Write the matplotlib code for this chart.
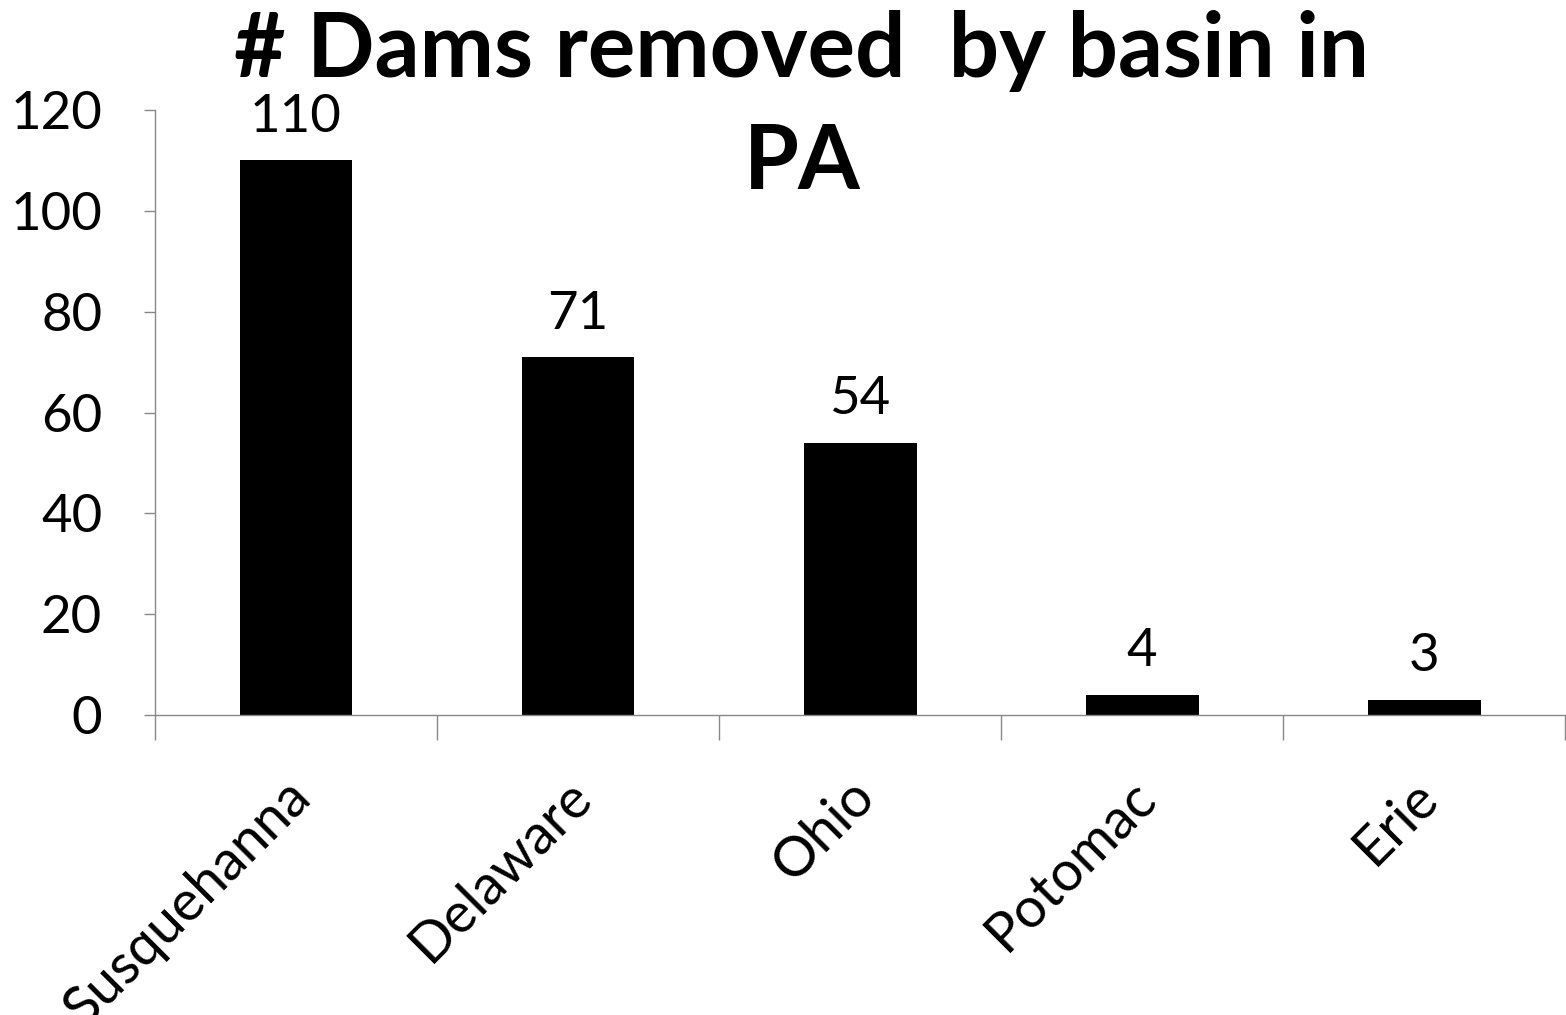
import matplotlib
matplotlib.use("Agg")
import matplotlib.pyplot as plt
from matplotlib.ticker import FixedLocator
from matplotlib.transforms import ScaledTranslation

categories = ["Susquehanna", "Delaware", "Ohio", "Potomac", "Erie"]
values = [110, 71, 54, 4, 3]
yticks = [0, 20, 40, 60, 80, 100, 120]

plt.rcParams['font.family'] = ['Lato', 'DejaVu Sans']

fig = plt.figure(figsize=(15.66, 10.15), dpi=100)
ax = fig.add_axes([155/1566, 1-715/1015, 1-155/1566 - 0.0005, (715-110)/1015])

x = list(range(len(categories)))
ax.bar(x, values, width=0.4, color='black')
for xi, v in zip(x, values):
    ax.annotate(str(v), (xi, v), xytext=(0, 14), textcoords='offset points',
                ha='center', va='bottom', fontsize=38)

ax.set_xlim(-0.5, len(categories) - 0.5)
ax.set_ylim(0, 120)
ax.set_yticks(yticks)
ax.set_yticklabels([str(t) for t in yticks], fontsize=38)
ax.set_xticks(x)
ax.set_xticklabels(categories, rotation=45, ha='right', rotation_mode='anchor', fontsize=40)
ax.tick_params(axis='x', which='major', length=0, pad=40)
offset = ScaledTranslation(-12/100, 0, fig.dpi_scale_trans)
for lbl in ax.get_xticklabels():
    lbl.set_transform(lbl.get_transform() + offset)
ax.xaxis.set_minor_locator(FixedLocator([i - 0.5 for i in range(len(categories) + 1)]))
ax.tick_params(axis='x', which='minor', length=18, width=1, color='#888888', direction='out')
ax.tick_params(axis='y', length=8, width=1, color='#888888', direction='out', pad=30)

for s in ['top', 'right']:
    ax.spines[s].set_visible(False)
for s in ['left', 'bottom']:
    ax.spines[s].set_color('#888888')
    ax.spines[s].set_linewidth(1)

fig.text(0.512, 0.99, "# Dams removed  by basin in\nPA", ha='center', va='top',
         fontsize=64, fontweight='bold', linespacing=1.45)

fig.savefig("out.png", dpi=100)
